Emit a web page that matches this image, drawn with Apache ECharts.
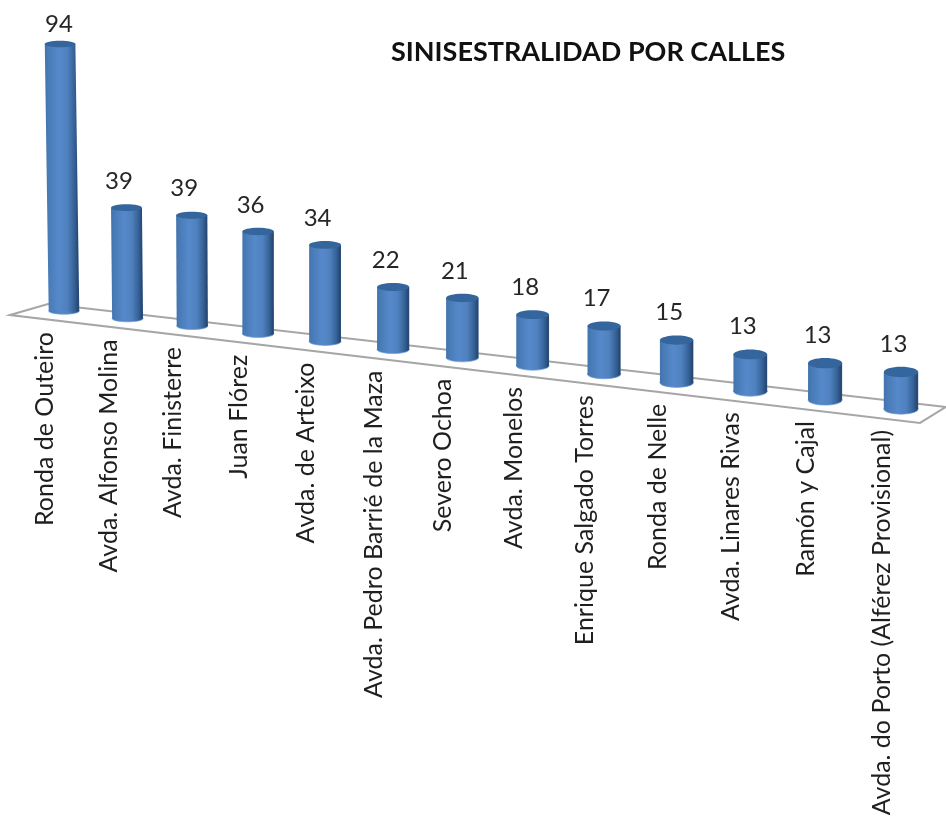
<!DOCTYPE html>
<html><head><meta charset="utf-8">
<style>html,body{margin:0;padding:0;background:#fff}#c{width:946px;height:819px}</style>
<script src="https://cdn.jsdelivr.net/npm/echarts@6/dist/echarts.min.js"></script>
</head><body><div id="c"></div>
<script>
const categories = ["Ronda de Outeiro","Avda. Alfonso Molina","Avda. Finisterre","Juan Flórez","Avda. de Arteixo","Avda. Pedro Barrié de la Maza","Severo Ochoa","Avda. Monelos","Enrique Salgado Torres","Ronda de Nelle","Avda. Linares Rivas","Ramón y Cajal","Avda. do Porto (Alférez Provisional)"];
const values = [94,39,39,36,34,22,21,18,17,15,13,13,13];
const titleText = "SINISESTRALIDAD POR CALLES";

const G = {left:64, width:837, top:27, height:284};
const FONT = 'Lato, "Noto Sans", sans-serif';
// perspective of the sloped floor applied on top of the axis scales
function warp(p){
  const t=(p[0]-G.left)/G.width;
  const x=p[0]+80.6*t*(t-1);
  return [x, p[1]+0.117*(x-G.left)];
}
const chart = echarts.init(document.getElementById('c'),null,{renderer:'canvas'});
function renderBar(params,api){
  const i=api.value(0), v=api.value(1);
  const base=api.coord([i,0]), b=warp(base), h=base[1]-api.coord([i,v])[1];
  const k=i/12;
  const rx=15.3+1.9*k, ry=3.2+2*k;
  const lean=Math.min(0,(b[0]-260)*7.5e-5)*h;
  const top=[b[0]+lean, b[1]-h];
  const grad=new echarts.graphic.LinearGradient(0,0,1,0,[
    {offset:0,color:'#4273ad'},{offset:.1,color:'#487ab6'},{offset:.4,color:'#5689ca'},
    {offset:.65,color:'#4f81be'},{offset:.87,color:'#345f94'},{offset:.97,color:'#25466f'},{offset:1,color:'#2f5688'}]);
  const labelX=Math.max(59,top[0]-7.5), labelY=Math.max(24,top[1]-ry-23);
  return {type:'group',children:[
    {type:'ellipse',shape:{cx:b[0],cy:b[1],rx:rx,ry:ry},style:{fill:grad,stroke:'#6d9bd2',lineWidth:0.7}},
    {type:'polygon',shape:{points:[[top[0]-rx,top[1]],[top[0]+rx,top[1]],[b[0]+rx,b[1]],[b[0]-rx,b[1]]]},style:{fill:grad}},
    {type:'ellipse',shape:{cx:top[0],cy:top[1],rx:rx,ry:ry},style:{fill:'#34659d'}},
    {type:'text',x:labelX,y:labelY,style:{text:String(v),font:'24px '+FONT,fill:'#262626',align:'center',verticalAlign:'middle'}},
    {type:'text',x:b[0]-19,y:b[1]+21,rotation:Math.PI/2,style:{text:categories[i],font:'25px '+FONT,fill:'#1f1f1f',align:'right',verticalAlign:'middle'}}
  ]};
}
function renderFloor(params,api){
  const a=warp(api.coord([0,0])), z=warp(api.coord([12,0]));
  const pts=[[a[0]-54,a[1]+4],[a[0]-16,a[1]-7],[z[0]+45,z[1]-2],[z[0]+19,z[1]+14]];
  return {type:'polygon',shape:{points:pts},style:{fill:'#fff',stroke:'#a6a6a6',lineWidth:2}};
}
chart.setOption({
  animation:false,
  backgroundColor:'#fff',
  title:{text:titleText,left:386,top:34,textStyle:{fontFamily:FONT,fontSize:27,fontWeight:'bold',color:'#111'}},
  grid:{left:G.left,width:G.width,top:G.top,height:G.height},
  xAxis:{type:'category',data:categories,boundaryGap:false,show:false},
  yAxis:{type:'value',min:0,max:100,show:false},
  series:[
    {type:'custom',coordinateSystem:'cartesian2d',z:1,clip:false,silent:true,renderItem:renderFloor,data:[[0,0]],encode:{x:0,y:1}},
    {type:'custom',coordinateSystem:'cartesian2d',z:2,clip:false,renderItem:renderBar,data:values.map((v,i)=>[i,v]),encode:{x:0,y:1}}
  ]
});
</script></body></html>
